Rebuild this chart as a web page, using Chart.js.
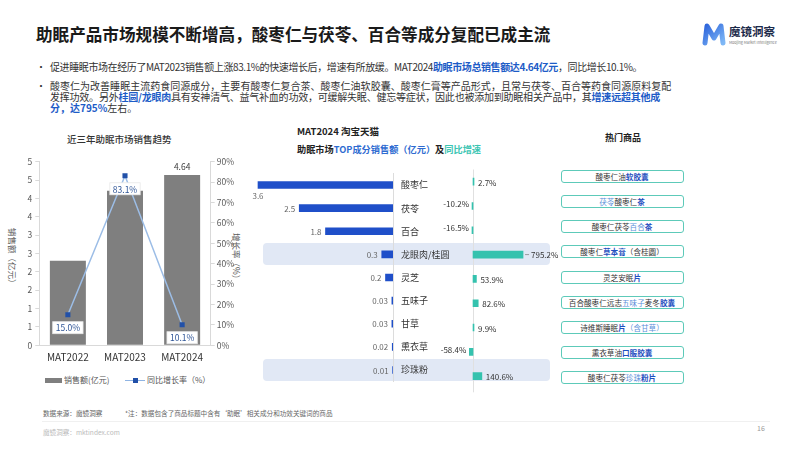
<!DOCTYPE html>
<html><head><meta charset="utf-8">
<script src="https://cdn.jsdelivr.net/npm/chart.js@4.4.0/dist/chart.umd.min.js"></script>
<style>
body{margin:0;width:799px;height:450px;background:#fff;font-family:"Noto Sans CJK SC","Noto Sans",sans-serif;position:relative;overflow:hidden;color:#333}
.abs{position:absolute;white-space:nowrap}
.b{color:#1d5cc7;font-weight:bold}
.title{left:36px;top:24px;font-size:16.6px;line-height:20px;font-weight:bold;color:#1a1a1a}
.bul{left:50px;font-size:10px;line-height:11.4px;color:#333}
.dot{left:36px;font-size:10px;line-height:11.4px}
.hl{position:absolute;left:263px;width:287px;height:22px;background:#e1e8f5;border-radius:4px;z-index:0}
canvas{position:absolute;z-index:1}
.box{position:absolute;left:560.5px;width:121px;height:11px;border:1.6px solid #5dcab9;border-radius:3px;font-size:7.6px;line-height:11px;text-align:center;color:#333;white-space:nowrap;background:#fff}
.s1{color:#5b8fd9}.s2{color:#1f4fbf;font-weight:bold}
.vt{position:absolute;font-size:8.5px;color:#595959;white-space:nowrap;transform-origin:0 0;transform:rotate(90deg)}
.lg{position:absolute;font-size:8px;color:#555;line-height:10px;white-space:nowrap}
</style></head><body>

<div class="abs title">助眠产品市场规模不断增高，酸枣仁与茯苓、百合等成分复配已成主流</div>
<div class="abs dot" style="top:61px">•</div>
<div class="abs bul" style="top:61px;letter-spacing:-0.4px">促进睡眠市场在经历了MAT2023销售额上涨83.1%的快速增长后，增速有所放缓。MAT2024<span class="b">助眠市场总销售额达4.64亿元</span>，同比增长10.1%。</div>
<div class="abs dot" style="top:79.5px">•</div>
<div class="abs bul" style="top:79.5px;letter-spacing:0.02px">酸枣仁为改善睡眠主流药食同源成分，主要有酸枣仁复合茶、酸枣仁油软胶囊、酸枣仁膏等产品形式，且常与茯苓、百合等药食同源原料复配</div>
<div class="abs bul" style="top:90.9px;letter-spacing:-0.22px">发挥功效。另外<span class="b">桂圆/龙眼肉</span>具有安神清气、益气补血的功效，可缓解失眠、健忘等症状，因此也被添加到助眠相关产品中，其<span class="b">增速远超其他成</span></div>
<div class="abs bul" style="top:102.3px"><span class="b">分，达795%</span>左右。</div>

<!-- logo -->
<svg class="abs" style="left:702px;top:23px" width="24" height="23" viewBox="0 0 24 23">
<defs><linearGradient id="lg" x1="0" y1="0" x2="1" y2="1"><stop offset="0" stop-color="#2f66dc"/><stop offset="1" stop-color="#7fb8f6"/></linearGradient></defs>
<path d="M3,20 L5,3 L12,15 L19,3 L21,20" fill="none" stroke="url(#lg)" stroke-width="5" stroke-linecap="round" stroke-linejoin="round"/>
</svg>
<div class="abs" style="left:729px;top:24px;font-size:11.5px;font-weight:bold;color:#1b2a4a;line-height:14px">魔镜洞察</div>
<div class="abs" style="left:729px;top:40px;font-size:6px;color:#777;transform:scale(0.62);transform-origin:0 0">Moojing Market Intelligence</div>

<!-- left chart texts -->
<div class="abs" style="left:67px;top:132px;font-size:9.5px;font-weight:500;color:#333;line-height:14px">近三年助眠市场销售趋势</div>
<div class="vt" style="left:19px;top:228px">销售额（亿元）</div>
<div class="vt" style="left:243px;top:233px">增长率（%）</div>
<div class="abs" style="left:45px;top:377.5px;width:17px;height:5px;background:#7f7f7f"></div>
<div class="lg" style="left:64px;top:375px">销售额(亿元)</div>
<div class="abs" style="left:125px;top:379.5px;width:20px;height:1.2px;background:#8fb4e3"></div>
<div class="abs" style="left:132.5px;top:377.5px;width:5px;height:5px;background:#2150a8"></div>
<div class="lg" style="left:147px;top:375px">同比增长率（%）</div>

<!-- middle texts -->
<div class="abs" style="left:297px;top:124px;font-size:9.5px;font-weight:bold;color:#222;line-height:14px">MAT2024 淘宝天猫</div>
<div class="abs" style="left:297px;top:142px;font-size:9.2px;font-weight:bold;color:#222;line-height:14px">助眠市场<span style="color:#2e6bd1">TOP成分销售额（亿元）</span>及<span style="color:#3cc5b3">同比增速</span></div>

<!-- right texts -->
<div class="abs" style="left:605px;top:131px;font-size:9px;font-weight:bold;color:#222;line-height:14px">热门商品</div>
<div id="boxes"></div>

<canvas id="trend" width="250" height="220" style="left:0;top:150px"></canvas>
<canvas id="salesC" width="233" height="235" style="left:240px;top:160px"></canvas>
<canvas id="growC" width="140" height="235" style="left:420px;top:160px"></canvas>

<!-- footer -->
<div class="abs" style="left:43px;top:408px;font-size:6.6px;color:#666;line-height:10px">数据来源：魔镜洞察</div>
<div class="abs" style="left:125px;top:408px;font-size:6.6px;color:#666;line-height:10px">*注：数据包含了商品标题中含有‘助眠’相关成分和功效关键词的商品</div>
<div class="abs" style="left:42px;top:421px;width:728px;height:1px;background:#f0f0f0"></div>
<div class="abs" style="left:43px;top:427px;font-size:6.6px;color:#bbb;line-height:10px">魔镜洞察：mktindex.com</div>
<div class="abs" style="left:757px;top:423px;font-size:7px;color:#999;line-height:10px">16</div>

<script>
// ---------- data ----------
const years = ['MAT2022', 'MAT2023', 'MAT2024'];
const sales = [2.30, 4.21, 4.64];
const salesLabelShown = [false, false, true];
const growth = [15.0, 83.1, 10.1];

const ingredients = ['酸枣仁', '茯苓', '百合', '龙眼肉/桂圆', '灵芝', '五味子', '甘草', '熏衣草', '珍珠粉'];
const ingSales = [3.6, 2.5, 1.8, 0.3, 0.2, 0.03, 0.03, 0.02, 0.01];
const ingGrowth = [2.7, -10.2, -16.5, 795.2, 53.9, 82.6, 9.9, -58.4, 140.6];
const highlightRows = [3, 8];

const products = [
  [['酸枣仁油', 0], ['软胶囊', 2]],
  [['茯苓', 1], ['酸枣仁', 0], ['茶', 2]],
  [['酸枣仁茯苓', 0], ['百合', 1], ['茶', 2]],
  [['酸枣仁', 0], ['草本膏', 2], ['（含桂圆）', 0]],
  [['灵芝安眠', 0], ['片', 2]],
  [['百合酸枣仁远志', 0], ['五味子', 1], ['麦冬', 0], ['胶囊', 2]],
  [['诗维斯睡眠', 0], ['片', 2], ['（含甘草）', 1]],
  [['熏衣草油', 0], ['口服胶囊', 2]],
  [['酸枣仁茯苓', 0], ['珍珠', 1], ['粉片', 2]]
];

// ---------- setup ----------
Chart.defaults.font.family = '"Noto Sans CJK SC","Noto Sans",sans-serif';
Chart.defaults.devicePixelRatio = 1;
const FONT = '"Noto Sans CJK SC","Noto Sans",sans-serif';

const boxes = document.getElementById('boxes');
products.forEach((segs, i) => {
  const d = document.createElement('div');
  d.className = 'box';
  d.style.top = (170 + i * 25.15) + 'px';
  d.innerHTML = segs.map(([t, s]) => `<span class="${s === 1 ? 's1' : s === 2 ? 's2' : ''}">${t}</span>`).join('');
  boxes.appendChild(d);
});

// ---------- trend chart ----------
const trendLabels = {
  id: 'trendLabels',
  afterDatasetsDraw(c) {
    const ctx = c.ctx; ctx.save();
    const bm = c.getDatasetMeta(0);
    ctx.font = '8.5px ' + FONT; ctx.fillStyle = '#404040'; ctx.textAlign = 'center'; ctx.textBaseline = 'bottom';
    salesLabelShown.forEach((s, i) => { if (s) { const b = bm.data[i]; ctx.fillText(sales[i].toFixed(2), b.x, b.y - 4); } });
    const lm = c.getDatasetMeta(1);
    lm.data.forEach((p, i) => {
      const t = growth[i].toFixed(1) + '%';
      const w = ctx.measureText(t).width + 6, y = p.y + 13;
      ctx.fillStyle = '#fff'; ctx.fillRect(p.x - w / 2, y - 6, w, 12);
      ctx.strokeStyle = '#e8e8e8'; ctx.lineWidth = 0.8; ctx.strokeRect(p.x - w / 2, y - 6, w, 12);
      ctx.fillStyle = '#2f5597'; ctx.textBaseline = 'middle'; ctx.fillText(t, p.x, y + 0.5);
    });
    ctx.restore();
  }
};

new Chart(document.getElementById('trend'), {
  data: {
    labels: years,
    datasets: [
      { type: 'bar', data: sales, backgroundColor: '#7f7f7f', yAxisID: 'y', order: 1, categoryPercentage: 1, barPercentage: 0.63 },
      { type: 'line', data: growth, yAxisID: 'y2', order: 0, borderColor: '#9cbde6', borderWidth: 1.5,
        pointStyle: 'rect', pointRadius: 3.6, pointBackgroundColor: '#2150a8', pointBorderColor: '#2150a8', pointBorderWidth: 0 }
    ]
  },
  options: {
    responsive: false, animation: false,
    layout: { padding: { top: 11.7, left: 0, right: 0, bottom: 0 } },
    plugins: { tooltip: { enabled: false }, legend: { display: false } },
    scales: {
      x: {
        grid: { display: false, drawTicks: false }, border: { color: '#d9d9d9' },
        ticks: { font: { size: 10 }, color: '#333', padding: 6 },
        afterFit(s) { s.height = 24.7; }
      },
      y: {
        position: 'left', min: 0, max: 5,
        ticks: { stepSize: 0.5, callback: v => Math.round(v), font: { size: 8.5 }, color: '#595959', padding: 3 },
        grid: { drawOnChartArea: false, tickLength: 4, color: '#d9d9d9' }, border: { color: '#d9d9d9' },
        afterFit(s) { s.width = 39.3; }
      },
      y2: {
        position: 'right', min: 0, max: 90,
        ticks: { stepSize: 10, callback: v => v + '%', font: { size: 8.5 }, color: '#595959', padding: 2 },
        grid: { drawOnChartArea: false, tickLength: 4, color: '#d9d9d9' }, border: { color: '#d9d9d9' },
        afterFit(s) { s.width = 39.3; }
      }
    }
  },
  plugins: [trendLabels]
});

// ---------- ingredient sales (left) ----------
const salesValueLabels = {
  id: 'salesValueLabels',
  afterDatasetsDraw(c) {
    const ctx = c.ctx; ctx.save();
    ctx.font = '8px ' + FONT; ctx.fillStyle = '#666'; ctx.textBaseline = 'middle';
    c.getDatasetMeta(0).data.forEach((b, i) => {
      const t = String(ingSales[i]); const w = ctx.measureText(t).width;
      if (b.x - 4 - w < c.chartArea.left + 10) { ctx.textAlign = 'center'; ctx.fillText(t, b.x, b.y + 11); }
      else { ctx.textAlign = 'right'; ctx.fillText(t, b.x - 4, b.y + 0.5); }
    });
    ctx.restore();
  }
};
const salesChart = new Chart(document.getElementById('salesC'), {
  type: 'bar',
  data: { labels: ingredients, datasets: [{ data: ingSales, backgroundColor: '#1f4fc9', barThickness: 7 }] },
  options: {
    indexAxis: 'y', responsive: false, animation: false,
    layout: { padding: { top: 9.5, bottom: 6.7, left: 0, right: 0 } },
    plugins: { legend: { display: false }, tooltip: { enabled: false } },
    scales: {
      x: { display: false, reverse: true, min: 0, max: 4.08 },
      y: {
        position: 'right',
        grid: { drawOnChartArea: false, drawTicks: false, color: '#dcdcdc' }, border: { color: '#dcdcdc' },
        ticks: { font: { size: 9 }, color: '#333', padding: 8 },
        afterFit(s) { s.width = 80; }
      }
    }
  },
  plugins: [salesValueLabels]
});

// ---------- ingredient growth (right) ----------
const growthLabels = {
  id: 'growthLabels',
  beforeDatasetsDraw(c) {
    const ctx = c.ctx, x0 = c.scales.x.getPixelForValue(0);
    ctx.save(); ctx.strokeStyle = '#e0e0e0'; ctx.lineWidth = 1;
    ctx.beginPath(); ctx.moveTo(Math.round(x0) + 0.5, c.chartArea.top); ctx.lineTo(Math.round(x0) + 0.5, c.chartArea.bottom + 4); ctx.stroke();
    ctx.restore();
  },
  afterDatasetsDraw(c) {
    const ctx = c.ctx; ctx.save();
    ctx.font = '8px ' + FONT; ctx.fillStyle = '#333'; ctx.textBaseline = 'middle';
    const x0 = c.scales.x.getPixelForValue(0);
    c.getDatasetMeta(0).data.forEach((b, i) => {
      const t = ingGrowth[i].toFixed(1) + '%';
      if (ingGrowth[i] < 0) { ctx.textAlign = 'right'; ctx.fillText(t, b.x - 3, b.y - 2); }
      else if (b.x - x0 > 30) {
        ctx.strokeStyle = '#888'; ctx.lineWidth = 0.8; ctx.beginPath(); ctx.moveTo(b.x + 2, b.y); ctx.lineTo(b.x + 6, b.y); ctx.stroke();
        ctx.textAlign = 'left'; ctx.fillText(t, b.x + 8, b.y);
      } else { ctx.textAlign = 'left'; ctx.fillText(t, b.x + 4, b.y + 1); }
    });
    ctx.restore();
  }
};
new Chart(document.getElementById('growC'), {
  type: 'bar',
  data: { labels: ingredients, datasets: [{ data: ingGrowth, backgroundColor: '#34c2ae', barThickness: 7, minBarLength: 1 }] },
  options: {
    indexAxis: 'y', responsive: false, animation: false,
    layout: { padding: { top: 9.5, bottom: 6.7, left: 0, right: 0 } },
    plugins: { legend: { display: false }, tooltip: { enabled: false } },
    scales: { x: { display: false, min: -843, max: 1383 }, y: { display: false } }
  },
  plugins: [growthLabels]
});

highlightRows.forEach(i => {
  const d = document.createElement('div');
  d.className = 'hl';
  d.style.top = (160 + salesChart.scales.y.getPixelForValue(i) - 11) + 'px';
  document.body.appendChild(d);
});
</script>
</body></html>
